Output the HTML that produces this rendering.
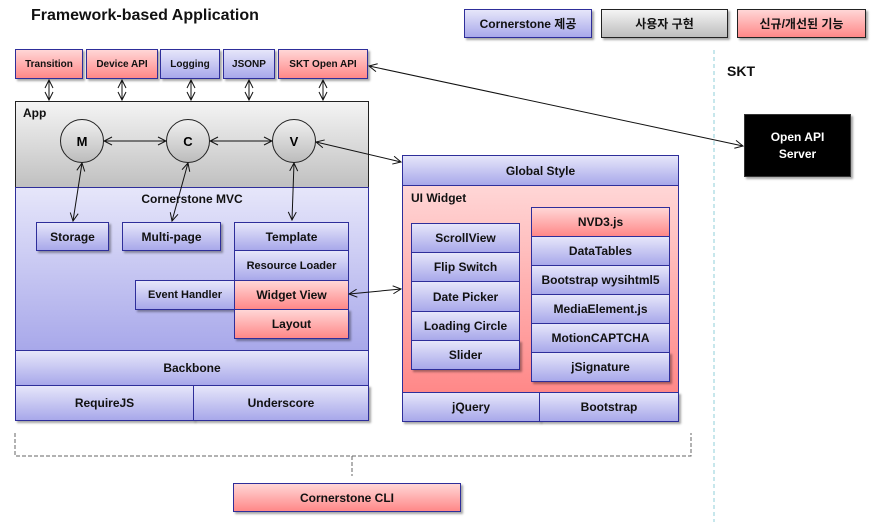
<!DOCTYPE html>
<html><head><meta charset="utf-8"><style>
body{margin:0;width:876px;height:522px;background:#fff;position:relative;overflow:hidden;font-family:"Liberation Sans","Noto Sans CJK KR",sans-serif;}
.b{position:absolute;box-sizing:border-box;border:1.5px solid #2e2e9a;display:flex;align-items:center;justify-content:center;font-size:12px;font-weight:bold;color:#111;text-align:center;}
.bl{background:linear-gradient(#e6e6fa,#a8a8ea);}
.pk{background:linear-gradient(#ffd6d6,#ff8888);}
.gr{background:linear-gradient(#f4f4f4,#bdbdbd);border-color:#222;}
.sh{box-shadow:2px 2px 2px rgba(0,0,0,.35);}
.t{position:absolute;font-weight:bold;color:#111;}
.c{position:absolute;width:44px;height:44px;border-radius:50%;border:1.5px solid #222;box-sizing:border-box;background:linear-gradient(#f0f0f0,#bcbcbc);display:flex;align-items:center;justify-content:center;font-weight:bold;font-size:13px;}
</style></head><body>
<div class="t" style="left:31px;top:7px;font-size:16px;">Framework-based Application</div>
<div class="b bl sh" style="left:464px;top:9px;width:128px;height:29px;">Cornerstone 제공</div>
<div class="b gr sh" style="left:601px;top:9px;width:127px;height:29px;">사용자 구현</div>
<div class="b pk sh" style="left:737px;top:9px;width:129px;height:29px;border-color:#222;">신규/개선된 기능</div>

<div class="b pk sh" style="left:15px;top:49px;width:68px;height:30px;font-size:10px;">Transition</div>
<div class="b pk sh" style="left:86px;top:49px;width:72px;height:30px;font-size:10px;">Device API</div>
<div class="b bl sh" style="left:160px;top:49px;width:60px;height:30px;font-size:10px;">Logging</div>
<div class="b bl sh" style="left:223px;top:49px;width:52px;height:30px;font-size:10px;">JSONP</div>
<div class="b pk sh" style="left:278px;top:49px;width:90px;height:30px;font-size:10px;">SKT Open API</div>

<div class="b" style="left:15px;top:101px;width:354px;height:87px;background:linear-gradient(#f4f4f4,#c0c0c0);border-color:#222;"></div>
<div class="t" style="left:23px;top:106px;font-size:12px;">App</div>
<div class="b bl" style="left:15px;top:187px;width:354px;height:164px;background:linear-gradient(#e6e6fa,#a8a8ea);"></div>
<div class="t" style="left:15px;top:192px;width:354px;text-align:center;font-size:12px;">Cornerstone MVC</div>
<div class="c" style="left:60px;top:119px;">M</div>
<div class="c" style="left:166px;top:119px;">C</div>
<div class="c" style="left:272px;top:119px;">V</div>

<div class="b bl sh" style="left:36px;top:222px;width:73px;height:29px;">Storage</div>
<div class="b bl sh" style="left:122px;top:222px;width:99px;height:29px;">Multi-page</div>
<div class="b bl" style="left:234px;top:222px;width:115px;height:29px;">Template</div>
<div class="b bl" style="left:234px;top:250px;width:115px;height:31px;font-size:11px;">Resource Loader</div>
<div class="b bl sh" style="left:135px;top:280px;width:100px;height:30px;font-size:11px;">Event Handler</div>
<div class="b pk" style="left:234px;top:280px;width:115px;height:30px;">Widget View</div>
<div class="b pk sh" style="left:234px;top:309px;width:115px;height:30px;">Layout</div>

<div class="b bl" style="left:15px;top:350px;width:354px;height:36px;">Backbone</div>
<div class="b bl sh" style="left:15px;top:385px;width:179px;height:36px;">RequireJS</div>
<div class="b bl sh" style="left:193px;top:385px;width:176px;height:36px;">Underscore</div>

<div class="b bl" style="left:402px;top:155px;width:277px;height:31px;">Global Style</div>
<div class="b pk" style="left:402px;top:185px;width:277px;height:208px;"></div>
<div class="t" style="left:411px;top:191px;font-size:12px;">UI Widget</div>
<div class="b bl" style="left:411px;top:223px;width:109px;height:30px;">ScrollView</div>
<div class="b bl" style="left:411px;top:252px;width:109px;height:30px;">Flip Switch</div>
<div class="b bl" style="left:411px;top:281px;width:109px;height:31px;">Date Picker</div>
<div class="b bl" style="left:411px;top:311px;width:109px;height:30px;">Loading Circle</div>
<div class="b bl sh" style="left:411px;top:340px;width:109px;height:30px;">Slider</div>
<div class="b pk" style="left:531px;top:207px;width:139px;height:30px;border-color:#2e2e9a;">NVD3.js</div>
<div class="b bl" style="left:531px;top:236px;width:139px;height:30px;">DataTables</div>
<div class="b bl" style="left:531px;top:265px;width:139px;height:30px;">Bootstrap wysihtml5</div>
<div class="b bl" style="left:531px;top:294px;width:139px;height:30px;">MediaElement.js</div>
<div class="b bl" style="left:531px;top:323px;width:139px;height:30px;">MotionCAPTCHA</div>
<div class="b bl sh" style="left:531px;top:352px;width:139px;height:30px;">jSignature</div>
<div class="b bl sh" style="left:402px;top:392px;width:138px;height:30px;">jQuery</div>
<div class="b bl sh" style="left:539px;top:392px;width:140px;height:30px;">Bootstrap</div>

<div class="t" style="left:727px;top:63px;font-size:14px;">SKT</div>
<div class="b sh" style="left:744px;top:114px;width:107px;height:63px;background:#000;color:#fff;border-color:#333;line-height:17px;">Open API<br>Server</div>

<div class="b pk sh" style="left:233px;top:483px;width:228px;height:29px;">Cornerstone CLI</div>

<svg width="876" height="522" style="position:absolute;left:0;top:0;" fill="none" stroke="#111" stroke-width="1">
<defs><marker id="a" markerWidth="10" markerHeight="10" refX="9" refY="5" orient="auto-start-reverse" markerUnits="userSpaceOnUse"><path d="M1,1 L9,5 L1,9" fill="none" stroke="#111"/></marker></defs>
<line x1="714" y1="50" x2="714" y2="522" stroke="#8fcfd8" stroke-dasharray="4,3"/>
<g marker-start="url(#a)" marker-end="url(#a)">
<line x1="49" y1="80" x2="49" y2="100"/><line x1="122" y1="80" x2="122" y2="100"/><line x1="191" y1="80" x2="191" y2="100"/><line x1="249" y1="80" x2="249" y2="100"/><line x1="323" y1="80" x2="323" y2="100"/>
<line x1="369" y1="66" x2="743" y2="146"/>
<line x1="104" y1="141" x2="166" y2="141"/><line x1="210" y1="141" x2="272" y2="141"/>
<line x1="316" y1="142" x2="401" y2="162"/>
<line x1="82" y1="163" x2="73" y2="221"/><line x1="188" y1="163" x2="172" y2="221"/><line x1="294" y1="163" x2="292" y2="220"/>
<line x1="349" y1="294" x2="401" y2="289"/>
</g>
<path d="M15,433 V456 H691 V433" stroke="#666" stroke-dasharray="4,2"/>
<line x1="352" y1="456" x2="352" y2="476" stroke="#666" stroke-dasharray="4,2"/>
</svg>
</body></html>
